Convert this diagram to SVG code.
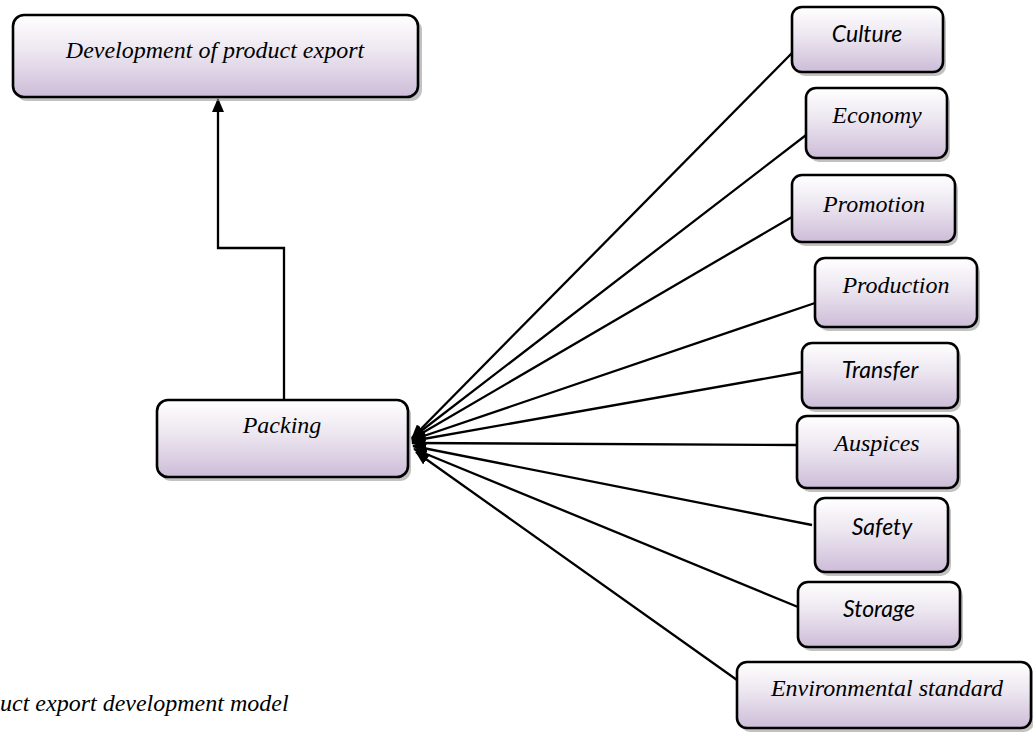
<svg xmlns="http://www.w3.org/2000/svg" width="1033" height="732" viewBox="0 0 1033 732">
<defs>
<linearGradient id="g" x1="0" y1="0" x2="0" y2="1">
<stop offset="0" stop-color="#ffffff"/>
<stop offset="0.45" stop-color="#ece6f0"/>
<stop offset="1" stop-color="#cdbcd8"/>
</linearGradient>
<marker id="ah" viewBox="0 0 14 12" refX="13" refY="6" markerWidth="14" markerHeight="12" orient="auto" markerUnits="userSpaceOnUse">
<path d="M0,0 L14,6 L0,12 Z" fill="#000"/>
</marker>
</defs>
<style>
.box{fill:url(#g);stroke:#000;stroke-width:2.6}
.sh{fill:#9a9a9a;opacity:0.6}
.ln{stroke:#000;stroke-width:2.3;fill:none;marker-end:url(#ah)}
</style>
<rect width="1033" height="732" fill="#fff"/>
<g id="connectors">
<path class="ln" d="M284,400 V248 H218 V99"/>
<line class="ln" x1="792" y1="53" x2="412" y2="438"/>
<line class="ln" x1="810" y1="132" x2="412" y2="438"/>
<line class="ln" x1="792" y1="217" x2="412" y2="439"/>
<line class="ln" x1="815" y1="303" x2="412" y2="440"/>
<line class="ln" x1="802" y1="372" x2="412" y2="441"/>
<line class="ln" x1="797" y1="445" x2="412" y2="443"/>
<line class="ln" x1="812" y1="525" x2="413" y2="446"/>
<line class="ln" x1="798" y1="607" x2="414" y2="449"/>
<line class="ln" x1="737" y1="680" x2="416" y2="452"/>
</g>
<g font-family="Liberation Serif, serif" font-style="italic" font-size="24" text-anchor="middle" fill="#000">
<g id="dev">
<rect class="sh" x="16" y="19" width="406" height="82" rx="11"/>
<rect class="box" x="13" y="15" width="405" height="82" rx="11"/>
<text x="215" y="58">Development of product export</text>
</g>
<g id="packing">
<rect class="sh" x="160" y="404" width="251" height="77" rx="11"/>
<rect class="box" x="157" y="400" width="251" height="77" rx="11"/>
<text x="282" y="433">Packing</text>
</g>
<g id="economy">
<rect class="sh" x="809" y="92" width="141" height="70" rx="10"/>
<rect class="box" x="806" y="88" width="141" height="70" rx="10"/>
<text x="877" y="123">Economy</text>
</g>
<g id="promotion">
<rect class="sh" x="795" y="179" width="163" height="67" rx="10"/>
<rect class="box" x="792" y="175" width="163" height="67" rx="10"/>
<text x="874" y="212">Promotion</text>
</g>
<g id="production">
<rect class="sh" x="818" y="262" width="162" height="69" rx="10"/>
<rect class="box" x="815" y="258" width="162" height="69" rx="10"/>
<text x="896" y="293">Production</text>
</g>
<g id="auspices">
<rect class="sh" x="800" y="420" width="161" height="72" rx="10"/>
<rect class="box" x="797" y="416" width="161" height="72" rx="10"/>
<text x="877" y="451">Auspices</text>
</g>
<g id="environmental">
<rect class="sh" x="740" y="666" width="294" height="66" rx="10"/>
<rect class="box" x="737" y="662" width="294" height="66" rx="10"/>
<text x="887" y="696">Environmental standard</text>
</g>
<text x="0" y="711" text-anchor="start">uct export development model</text>
</g>
<g font-family="Lato, 'Open Sans', sans-serif" font-style="italic" font-size="23" text-anchor="middle" fill="#000">
<g id="culture">
<rect class="sh" x="795" y="11" width="151" height="65" rx="10"/>
<rect class="box" x="792" y="7" width="151" height="65" rx="10"/>
<text x="867" y="42">Culture</text>
</g>
<g id="transfer">
<rect class="sh" x="805" y="347" width="156" height="65" rx="10"/>
<rect class="box" x="802" y="343" width="156" height="65" rx="10"/>
<text x="880" y="378">Transfer</text>
</g>
<g id="safety">
<rect class="sh" x="818" y="502" width="133" height="74" rx="10"/>
<rect class="box" x="815" y="498" width="133" height="74" rx="10"/>
<text x="882" y="535">Safety</text>
</g>
<g id="storage">
<rect class="sh" x="801" y="586" width="162" height="65" rx="10"/>
<rect class="box" x="798" y="582" width="162" height="65" rx="10"/>
<text x="879" y="617">Storage</text>
</g>
</g>
</svg>
